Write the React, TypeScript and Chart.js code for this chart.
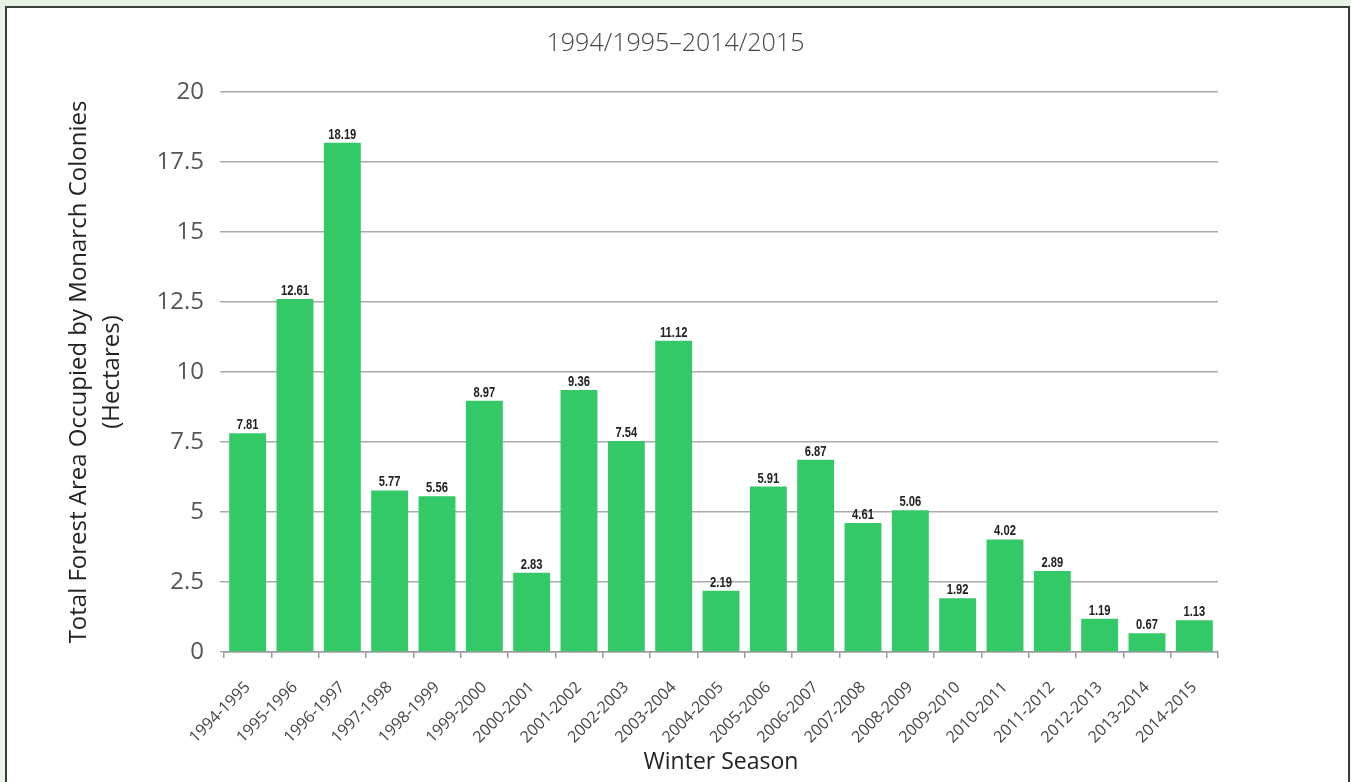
import React, { useEffect, useRef } from "react";
import { Chart, registerables } from "chart.js";

Chart.register(...registerables);

const seasons = [
  "1994-1995", "1995-1996", "1996-1997", "1997-1998", "1998-1999", "1999-2000",
  "2000-2001", "2001-2002", "2002-2003", "2003-2004", "2004-2005", "2005-2006",
  "2006-2007", "2007-2008", "2008-2009", "2009-2010", "2010-2011", "2011-2012",
  "2012-2013", "2013-2014", "2014-2015",
];
const hectares = [
  7.81, 12.61, 18.19, 5.77, 5.56, 8.97, 2.83, 9.36, 7.54, 11.12, 2.19, 5.91,
  6.87, 4.61, 5.06, 1.92, 4.02, 2.89, 1.19, 0.67, 1.13,
];
const chartTitle = "1994/1995\u20132014/2015";
const yTitle = ["Total Forest Area Occupied by Monarch Colonies", "(Hectares)"];
const xTitle = "Winter Season";

const FONT = '"Open Sans", "Noto Sans", sans-serif';

const valueLabels = {
  id: "valueLabels",
  afterDatasetsDraw(chart: any) {
    const ctx = chart.ctx;
    const meta = chart.getDatasetMeta(0);
    ctx.save();
    ctx.font = 'bold 14px "Liberation Sans", Arial, sans-serif';
    ctx.fillStyle = "#222";
    ctx.textAlign = "center";
    ctx.textBaseline = "alphabetic";
    meta.data.forEach((bar: any, i: number) => {
      ctx.save();
      ctx.translate(bar.x, bar.y - 4);
      ctx.scale(0.8, 1);
      ctx.fillText(hectares[i].toFixed(2), 0, 0);
      ctx.restore();
    });
    ctx.restore();
  },
};

export default function App() {
  const ref = useRef<HTMLCanvasElement | null>(null);
  useEffect(() => {
    if (!ref.current) return;
    const chart = new Chart(ref.current, {
      type: "bar",
      data: {
        labels: seasons,
        datasets: [
          {
            data: hectares,
            backgroundColor: "#34c967",
            barPercentage: 0.78,
            categoryPercentage: 1,
          },
        ],
      },
      options: {
        animation: false,
        responsive: false,
        layout: { padding: { left: 0, right: 0, top: 0, bottom: 0 } },
        plugins: {
          legend: { display: false },
          tooltip: { enabled: false },
          title: {
            display: true,
            text: chartTitle,
            color: "#444",
            font: { family: FONT, size: 25, weight: "300" as any, lineHeight: 1.2 },
            padding: { top: 29, bottom: 33 },
          },
        },
        scales: {
          x: {
            grid: {
              display: true,
              drawOnChartArea: false,
              drawTicks: true,
              tickLength: 6,
              offset: true,
              color: "#999",
              lineWidth: 1.5,
            },
            border: { display: true, color: "#999", width: 1.5 },
            ticks: {
              autoSkip: false,
              maxRotation: 45,
              minRotation: 45,
              color: "#444",
              padding: 20,
              font: { family: FONT, size: 16 },
            },
            title: {
              display: true,
              text: xTitle,
              color: "#222",
              font: { family: FONT, size: 23, lineHeight: 1.2 },
              padding: { top: 0, bottom: 6 },
            },
            afterFit(scale: any) {
              scale.height = 130;
            },
          },
          y: {
            min: 0,
            max: 20,
            ticks: {
              stepSize: 2.5,
              color: "#555",
              padding: 16,
              font: { family: FONT, size: 24 },
            },
            grid: {
              color: "#aaa",
              lineWidth: 1.5,
              drawTicks: true,
              tickLength: 4,
            },
            border: { display: false },
            title: {
              display: true,
              text: yTitle,
              color: "#222",
              font: { family: FONT, size: 24, lineHeight: 1.4 },
              padding: { top: 62, bottom: 0 },
            },
            afterFit(scale: any) {
              scale.width = 224;
            },
          },
          yRight: {
            position: "right",
            display: true,
            grid: { display: false, drawTicks: false },
            border: { display: false },
            ticks: { display: false },
            afterFit(scale: any) {
              scale.width = 133;
            },
          },
        },
      },
      plugins: [valueLabels],
    });
    return () => chart.destroy();
  }, []);

  return (
    <div
      style={{
        position: "fixed",
        left: 0,
        top: 0,
        width: 1351,
        height: 782,
        background: "#e8f3e6",
        overflow: "hidden",
      }}
    >
      <div
        style={{
          position: "absolute",
          left: 5,
          top: 6,
          width: 1341,
          height: 800,
          background: "#fff",
          border: "2px solid #3c3c3c",
        }}
      />
      <canvas
        ref={ref}
        width={1351}
        height={782}
        style={{ position: "absolute", left: 0, top: 0, width: 1351, height: 782 }}
      />
    </div>
  );
}
